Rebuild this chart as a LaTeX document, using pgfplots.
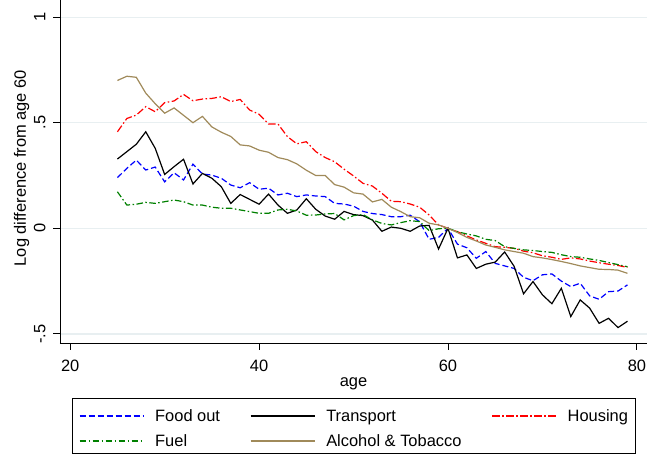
\documentclass[border=0pt]{standalone}
\usepackage{fontspec}
\setmainfont{Liberation Sans}
\usepackage{pgfplots}
\usepackage{pgfplotstable}
\pgfplotsset{compat=1.18}
\definecolor{foodblue}{RGB}{0,0,255}
\definecolor{houred}{RGB}{255,0,0}
\definecolor{fuelgreen}{RGB}{0,128,0}
\definecolor{alctan}{RGB}{160,138,90}
\definecolor{gridc}{RGB}{232,239,241}

\pgfplotstableread{
age food transport housing fuel alcohol
25 0.240 0.328 0.457 0.173 0.700
26 0.284 0.363 0.520 0.110 0.720
27 0.323 0.398 0.536 0.114 0.715
28 0.276 0.457 0.576 0.123 0.640
29 0.290 0.379 0.552 0.118 0.590
30 0.220 0.255 0.595 0.126 0.545
31 0.263 0.292 0.603 0.134 0.570
32 0.229 0.327 0.634 0.126 0.535
33 0.304 0.210 0.604 0.110 0.500
34 0.257 0.260 0.612 0.110 0.530
35 0.252 0.237 0.615 0.100 0.480
36 0.237 0.197 0.623 0.095 0.455
37 0.205 0.118 0.600 0.095 0.435
38 0.192 0.160 0.610 0.087 0.395
39 0.216 0.137 0.560 0.079 0.390
40 0.185 0.114 0.540 0.071 0.370
41 0.190 0.162 0.494 0.071 0.360
42 0.158 0.110 0.494 0.087 0.335
43 0.166 0.071 0.434 0.090 0.325
44 0.150 0.087 0.400 0.082 0.305
45 0.158 0.140 0.410 0.062 0.275
46 0.153 0.090 0.363 0.063 0.250
47 0.150 0.058 0.335 0.068 0.250
48 0.118 0.043 0.315 0.070 0.207
49 0.115 0.080 0.280 0.040 0.195
50 0.105 0.065 0.248 0.060 0.168
51 0.080 0.060 0.213 0.065 0.162
52 0.070 0.039 0.200 0.040 0.125
53 0.065 -0.014 0.166 0.023 0.137
54 0.055 0.006 0.128 0.016 0.100
55 0.055 0.000 0.126 0.027 0.079
56 0.062 -0.014 0.115 0.036 0.055
57 0.031 0.011 0.100 0.032 0.050
58 -0.052 0.014 0.063 -0.011 0.024
59 -0.043 -0.098 0.016 -0.002 0.016
60 0.000 0.000 0.000 0.000 0.000
61 -0.075 -0.140 -0.016 -0.016 -0.020
62 -0.092 -0.126 -0.036 -0.027 -0.043
63 -0.142 -0.190 -0.055 -0.036 -0.060
64 -0.110 -0.170 -0.071 -0.052 -0.079
65 -0.166 -0.160 -0.087 -0.058 -0.090
66 -0.178 -0.112 -0.090 -0.087 -0.102
67 -0.190 -0.180 -0.095 -0.095 -0.110
68 -0.232 -0.310 -0.108 -0.102 -0.118
69 -0.248 -0.252 -0.116 -0.105 -0.134
70 -0.220 -0.315 -0.130 -0.110 -0.140
71 -0.216 -0.357 -0.137 -0.114 -0.148
72 -0.250 -0.284 -0.147 -0.125 -0.157
73 -0.276 -0.418 -0.140 -0.134 -0.167
74 -0.260 -0.339 -0.145 -0.137 -0.178
75 -0.320 -0.378 -0.155 -0.145 -0.186
76 -0.336 -0.450 -0.163 -0.152 -0.194
77 -0.300 -0.426 -0.170 -0.162 -0.195
78 -0.297 -0.470 -0.176 -0.172 -0.198
79 -0.268 -0.440 -0.185 -0.182 -0.213
}\datatable

\begin{document}
\begin{tikzpicture}
\begin{axis}[
  scale only axis, width=587bp, height=343bp,
  xmin=18.92, xmax=81.07, ymin=-0.543, ymax=1.081,
  axis lines*=left,
  axis line style={line width=0.9bp, black},
  tick align=outside, major tick length=6.5bp,
  tick style={line width=0.9bp, black},
  xtick={20,40,60,80}, xticklabels={20,40,60,80},
  ytick={-0.5,0,0.5,1}, yticklabels={-.5,0,.5,1},
  ymajorgrids, grid style={gridc, line width=1.2bp},
  font=\fontsize{16.5}{19.8}\selectfont,
  xticklabel style={inner sep=0pt, anchor=north},
  yticklabel style={inner sep=0pt, rotate=90, anchor=base},
  xticklabel shift=10bp,
  yticklabel shift=8bp,
  xlabel={age}, ylabel={Log difference from age 60},
  every axis x label/.style={at={(axis description cs:0.5,-0.1254)}, anchor=base},
  every axis y label/.style={at={(axis description cs:-0.058,0.51)}, rotate=90, anchor=base},
  legend columns=3,
  legend cell align=left,
  legend style={at={(axis description cs:0.5,-0.1612)}, anchor=north,
    draw=black, line width=0.9bp, inner xsep=7bp, inner ysep=5.75bp,
    column sep=0bp, row sep=6.5bp,
    font=\fontsize{16.5}{19.8}\selectfont,
    cells={anchor=base west},
    nodes={inner sep=0bp, text height=17.5bp, text depth=1bp},
    /tikz/every even column/.append style={column sep=30bp}},
  legend image code/.code={\draw[#1, line width=1.2bp] (0bp,5.9bp) -- (64bp,5.9bp); \path (75bp,5.9bp);},
]
\addplot[foodblue, line width=1.2bp, dash pattern=on 6bp off 3bp] table[x=age, y=food] {\datatable};
\addlegendentry{Food out}
\addplot[black, line width=1.2bp] table[x=age, y=transport] {\datatable};
\addlegendentry{Transport}
\addplot[houred, line width=1.2bp, dash pattern=on 7.5bp off 2.5bp on 1.5bp off 2.5bp] table[x=age, y=housing] {\datatable};
\addlegendentry{Housing}
\addplot[fuelgreen, line width=1.2bp, dash pattern=on 6.5bp off 2.5bp on 1.5bp off 2.5bp] table[x=age, y=fuel] {\datatable};
\addlegendentry{Fuel}
\addplot[alctan, line width=1.2bp] table[x=age, y=alcohol] {\datatable};
\addlegendentry{Alcohol \& Tobacco}
\end{axis}
\pgfresetboundingbox
\useasboundingbox (-60bp,-112bp) rectangle (587bp,343bp);
\end{tikzpicture}
\end{document}
